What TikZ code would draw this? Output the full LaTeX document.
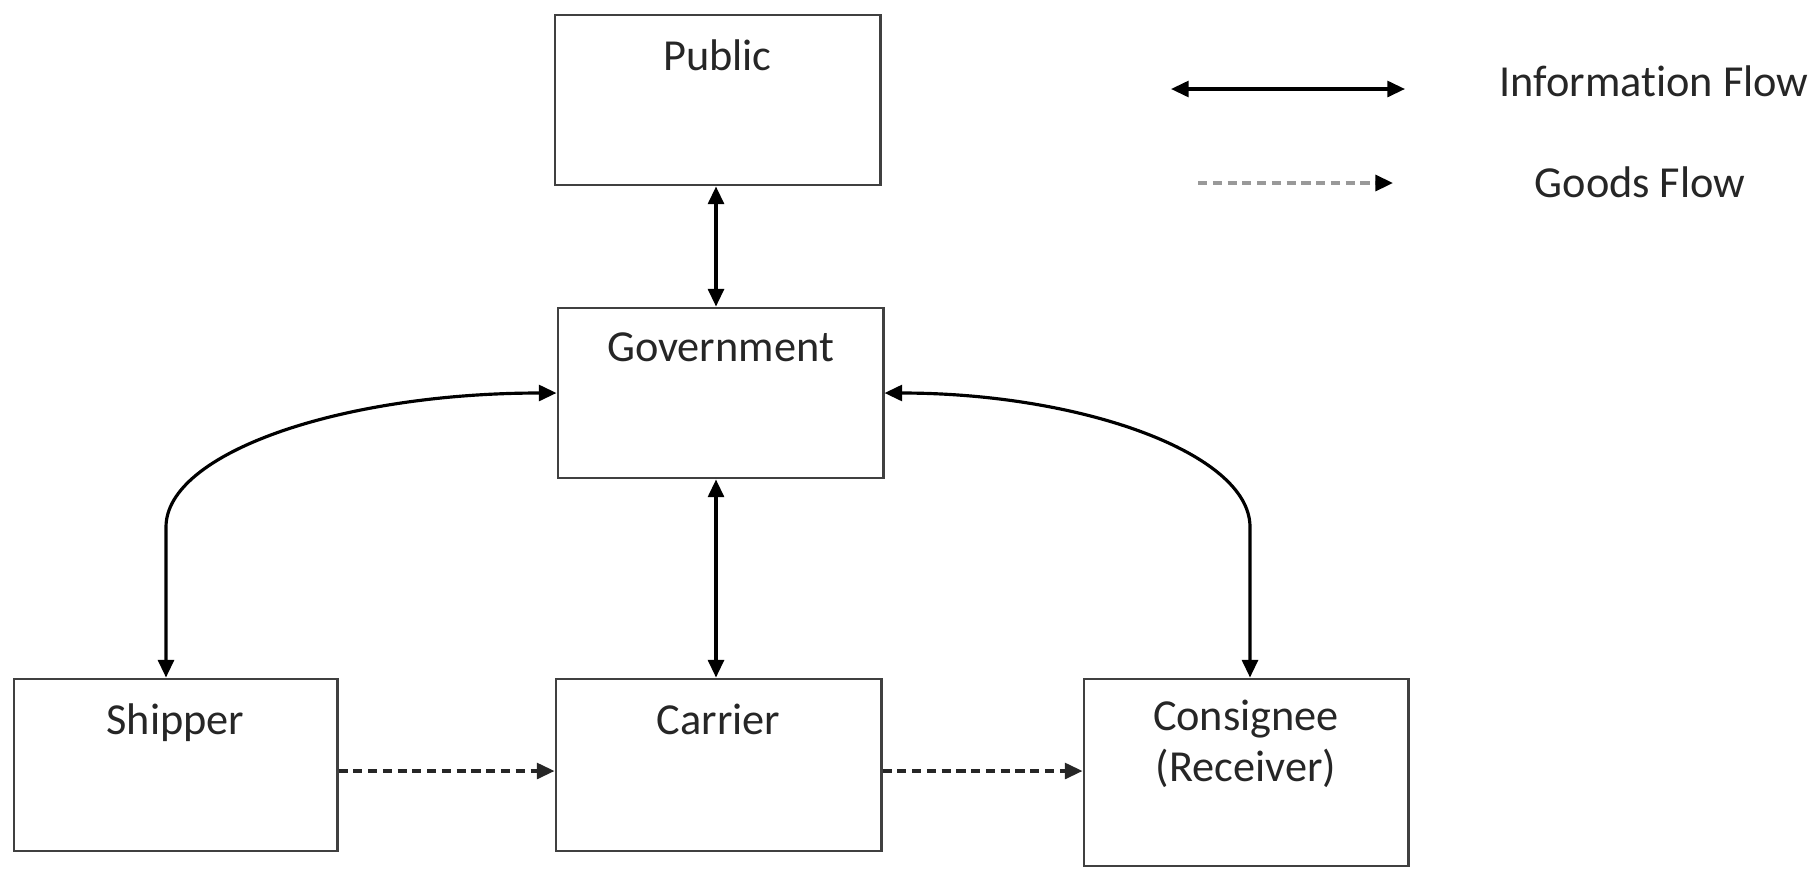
\documentclass[tikz,border=0pt]{standalone}
\usepackage{fontspec}
\setmainfont[Ligatures=CommonOff]{Carlito}
\usetikzlibrary{arrows.meta}
\begin{document}
\begin{tikzpicture}[x=0.01cm,y=-0.01cm,
  box/.style={draw=black!75,line width=0.8pt,inner sep=0pt,minimum width=3.25cm,minimum height=1.7cm},
  lbl/.style={font=\fontsize{12.6}{14.5}\selectfont,text=black!85,anchor=base,inner sep=0pt,align=center},
  info/.style={line width=0.9pt,{Triangle[length=5pt,width=4.5pt]}-{Triangle[length=5pt,width=4.5pt]}},
  goods/.style={line width=0.9pt,dash pattern=on 2.6pt off 1.6pt,-{Triangle[length=5pt,width=4.5pt]}}]
\useasboundingbox (0,0) rectangle (1818,869);
% boxes
\node[box] (pub)  at (717.5,100) {};
\node[box] (gov)  at (720.5,393) {};
\node[box,minimum width=3.23cm,minimum height=1.72cm] (ship) at (175.5,765) {};
\node[box,minimum height=1.72cm] (car)  at (718.5,765) {};
\node[box,minimum width=3.24cm,minimum height=1.87cm] (cons) at (1246,772.5) {};
% labels
\node[lbl] (tpub)  at (717.5,70)  {Public};
\node[lbl] (tgov)  at (720.5,361) {Government};
\node[lbl] (tship) at (175.5,734) {Shipper};
\node[lbl] (tcar)  at (718.5,734) {Carrier};
\node[lbl,anchor=north] (tcons) at (1246,699) {Consignee\\(Receiver)};
% information flows
\coordinate (V) at (716,0);
\draw[info] (pub.south -| V) -- (gov.north -| V);
\draw[info] (gov.south -| V) -- (car.north -| V);
\coordinate (L) at (166,527);
\coordinate (R) at (1250,527);
\draw[info] (L |- ship.north) -- (L) .. controls (166,453) and (341,393) .. (gov.west);
\draw[info] (R |- cons.north) -- (R) .. controls (1250,453) and (1080,393) .. (gov.east);
% goods flows
\draw[goods,black!85] (ship.east |- 0,771) -- (car.west |- 0,771);
\draw[goods,black!85] (car.east |- 0,771) -- (cons.west |- 0,771);
% legend
\coordinate (ia) at (1171,89);
\coordinate (ib) at (1405,89);
\draw[info] (ia) -- (ib);
\node[lbl,anchor=base west] (tinfo) at (1499,96) {Informat\kern0pt ion Flow};
\coordinate (ga) at (1198,183);
\coordinate (gb) at (1393,183);
\draw[line width=1pt,dash pattern=on 2.6pt off 1.6pt,draw=black!40,-{Triangle[length=5pt,width=4.5pt,black]}] (ga) -- (gb);
\node[lbl,anchor=base west] (tgoods) at (1534,197) {Goods Flow};
\end{tikzpicture}
\end{document}
